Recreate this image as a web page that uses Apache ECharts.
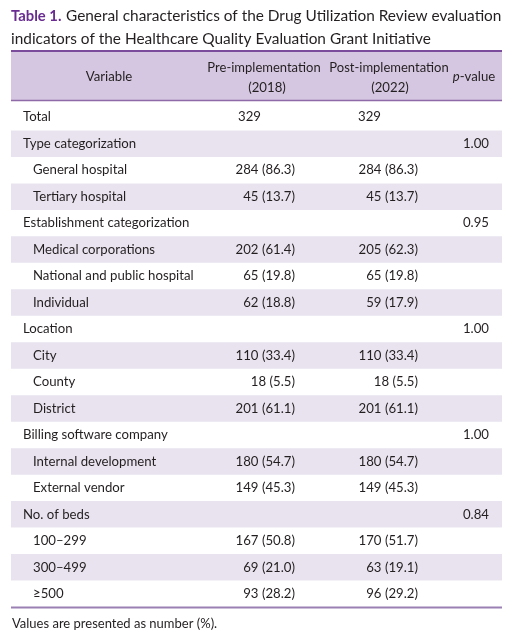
<!DOCTYPE html>
<html><head><meta charset="utf-8">
<script src="https://cdn.jsdelivr.net/npm/echarts@6/dist/echarts.min.js"></script>
<style>html,body{margin:0;padding:0;background:#fff}#c{width:516px;height:637px}</style>
</head><body><div id="c"></div>
<script>
const variables = ['Total','Type categorization','General hospital','Tertiary hospital','Establishment categorization','Medical corporations','National and public hospital','Individual','Location','City','County','District','Billing software company','Internal development','External vendor','No. of beds','100\u2013299','300\u2013499','\u2265500'];
const indentLevel = [0,0,1,1,0,1,1,1,0,1,1,1,0,1,1,0,1,1,1];
const preValues = ['329','','284 (86.3)','45 (13.7)','','202 (61.4)','65 (19.8)','62 (18.8)','','110 (33.4)','18 (5.5)','201 (61.1)','','180 (54.7)','149 (45.3)','','167 (50.8)','69 (21.0)','93 (28.2)'];
const postValues = ['329','','284 (86.3)','45 (13.7)','','205 (62.3)','65 (19.8)','59 (17.9)','','110 (33.4)','18 (5.5)','201 (61.1)','','180 (54.7)','149 (45.3)','','170 (51.7)','63 (19.1)','96 (29.2)'];
const pValues = ['','1.00','','','0.95','','','','1.00','','','','1.00','','','0.84','','',''];
const headerVariable = 'Variable';
const headerPre = ['Pre-implementation','(2018)'];
const headerPost = ['Post-implementation','(2022)'];
const headerP = ['p','-value'];
const titleLabel = 'Table 1.';
const titleLines = ['General characteristics of the Drug Utilization Review evaluation','indicators of the Healthcare Quality Evaluation Grant Initiative'];
const footnote = 'Values are presented as number (%).';

const FONT = 'Lato';
const TXT = '#231f20';
const FS = 13.2;
const TFS = 15.4;
const chart = echarts.init(document.getElementById('c'), null, {renderer:'canvas'});

const txt = (text, x, y, align, extra) => Object.assign({ type: 'text', x: x, y: y, z: 3, style: Object.assign({ text: text, align: align, verticalAlign: 'middle', fill: TXT, fontFamily: FONT, fontSize: FS }, extra || {}) });

const option = {
  animation: false,
  backgroundColor: '#fff',
  grid: { left: 0, right: 0, top: 104, bottom: 30 },
  xAxis: { type: 'value', min: 0, max: 516, show: false },
  yAxis: { type: 'category', data: variables, inverse: true, show: false },
  graphic: [
    txt(titleLabel, 11, 16.5, 'left', { fontSize: 14.8, fontWeight: 'bold', fill: '#6a2c91' }),
    txt(titleLines[0], 66, 16.5, 'left', { fontSize: TFS }),
    txt(titleLines[1], 11, 39.5, 'left', { fontSize: TFS }),
    { type: 'rect', shape: { x: 11, y: 51, width: 491, height: 50 }, style: { fill: '#d5c7e1' }, z: 1 },
    { type: 'line', shape: { x1: 11, y1: 51, x2: 502, y2: 51 }, style: { stroke: '#7b4b9c', lineWidth: 2 }, z: 2 },
    { type: 'line', shape: { x1: 11, y1: 100.5, x2: 502, y2: 100.5 }, style: { stroke: '#8f6aa8', lineWidth: 1.5 }, z: 2 },
    { type: 'line', shape: { x1: 11, y1: 607.5, x2: 502, y2: 607.5 }, style: { stroke: '#9a80b3', lineWidth: 2 }, z: 2 },
    txt(headerVariable, 109, 77, 'center'),
    txt(headerPre[0], 264, 68, 'center', { fontSize: 13 }),
    txt(headerPre[1], 267, 88, 'center'),
    txt(headerPost[0], 389, 68, 'center', { fontSize: 13 }),
    txt(headerPost[1], 390, 88, 'center'),
    txt('{i|' + headerP[0] + '}' + headerP[1], 474, 77, 'center', { rich: { i: { fontStyle: 'italic', fontFamily: FONT, fontSize: FS, fill: TXT } } }),
    txt(footnote, 12, 624, 'left', { fontSize: 13 })
  ],
  series: [{
    type: 'custom',
    coordinateSystem: 'cartesian2d',
    encode: { x: 0, y: 1 },
    data: variables.map((v, i) => [0, i]),
    renderItem: function (params, api) {
      const i = api.value(1);
      const yc = api.coord([0, i])[1];
      const bh = api.size([0, 1])[1];
      const X = v => api.coord([v, i])[0];
      const ch = [];
      if (i % 2 === 1) {
        ch.push({ type: 'rect', shape: { x: X(11), y: yc - bh / 2, width: X(502) - X(11), height: bh }, style: { fill: '#e9e3ef' } });
      }
      const t = (text, x, align) => ({ type: 'text', style: { text: text, x: x, y: yc, align: align, verticalAlign: 'middle', fill: TXT, fontFamily: FONT, fontSize: FS } });
      ch.push(t(variables[i], X(indentLevel[i] ? 33 : 23), 'left'));
      if (preValues[i]) {
        const hasP = preValues[i].indexOf('(') >= 0;
        ch.push(t(preValues[i], hasP ? X(295) : X(238), hasP ? 'right' : 'left'));
      }
      if (postValues[i]) {
        const hasP = postValues[i].indexOf('(') >= 0;
        ch.push(t(postValues[i], hasP ? X(418) : X(358), hasP ? 'right' : 'left'));
      }
      if (pValues[i]) ch.push(t(pValues[i], X(489), 'right'));
      return { type: 'group', children: ch };
    }
  }]
};
chart.setOption(option);
</script></body></html>
